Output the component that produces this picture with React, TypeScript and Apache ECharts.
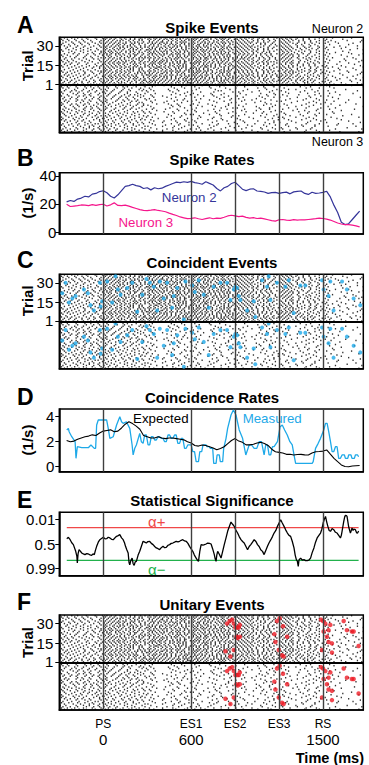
import React, { useEffect, useRef } from "react";
import * as echarts from "echarts";

// ---------------- data ----------------
const EVENT_T = [0, 600, 900, 1200, 1500];
const EVENT_NAMES = ["PS", "ES1", "ES2", "ES3", "RS"];
const EVENT_MS = ["0", "600", "", "", "1500"];

const X_MIN = -300;
const X_MAX = 1775;

const N_TRIALS = 36;
const TRIAL_TICKS = [1, 15, 30];

// spike trains: blocks of 300 ms starting at -300 ms, each char = offset in 10 ms bins (0-9, a-t)
const NEURON2_SPIKES = [
  "149cglpr 0368bfikoqs 1479cfhjmoqt 0358adgikms 258bdgjmps 147adhkos 27fq",
  "26afjnt 147aceimpr 0257adgjlorst 1469bejlnqt 0369cfilo 259chjmr 04cn",
  "37bfkos 0259cgjmqt 1358behkmpr 247adfikmps 147bdhknqs 036bgjnt 15j",
  "158dinr 036aehlosr 2469cfiloqs 0358bfhkmor 269cfjlpt 148behlo 39ip",
  "04agls 258bdhkmps 147adgjloqt 1369cfhknps 0358bgjmq 257cfjmr 1bm",
  "27chmq 1469cfilnr 0358bdgjmpr 2479cehknqs 147adgkot 0369dgkp 28gr",
  "159ejot 0358behkmr 1469bdgjnqs 0257aehjmps 258cfilos 147bejnr 06ks",
  "36bgkp 147adgjmqt 0258cfhkmps 1369beiloq 0479bfilps 258chlq 3dn",
  "048dhnr 258behlnqs 1369adgknp 0247adgjloqt 369cfjnr 1479djns 1bp",
  "25ahms 0369cfinps 147bdgjlos 1358aehkmpt 0258bfjmp 369bfkot 4hq",
  "17cglqs 148behkor 0259cfhkmps 1469bejmoq 258bejmqt 0479dhlp 27gs",
  "39ejo 0259cgikoq 147adgjmqs 0358bdhkmpr 147aeilo 258cfkos 0bm",
  "06bgmr 147beikoq 2569cfjlnqt 1358bfimps 0369cgjnq 147chlp 3ak",
  "28dinr 0369cfhkmps 1478beiloq 0269adgkmpt 258bfjns 0369elq 16fr",
  "15afkps 258beilns 0369cfhkmoq 1479bdgjnqs 147adhlp 269cgkot 2cp",
  "37ciot 147adgkmps 1358bfiloq 0258adgjmpr 0369bfjmq 148cgko 09l",
  "048djq 0369beilor 2479cfhkmpt 1358beiknq 258cgjms 0479djnr 3hs",
  "26bhms 147adfjlps 0358adhkmpq 2469cfilos 147beiloq 258dhlq 1bo",
  "159fkr 258cfhkoq 1469bdgjmps 0358aehkmpt 269cfjms 0369ejo 4fq",
  "38dinq 0369bejmor 147adgikos 1469bfhknps 0358bgknr 147dilr 2em",
  "04agms 147behkoqs 0258cfjlnq 1369adgjmps 1469cgjnr 258cgkp 06kt",
  "27bhlq 0359cgilps 147aehkmpr 0258bdgjmoq 147aeimp 0369dimr 3gs",
  "15ciot 248beilmq 0369bfhkmps 1479cfiloq 258behlo 1479djo 1co",
  "39djnr 0258adhknr 1358bdgjlos 0269cfhkmpt 0369chkos 258cgkr 4jr",
  "06agms 1469bfiloq 0247adhkmps 1358beiknps 258cfiln 036aflp 28h",
  "28ejos 0358cfikos 1469bdgjmpr 2479cfhkmq 147bejnq 258dhlr 0ds",
  "16bglq 147adhkmpt 0258cfiloq 1368adgjlps 0369cfjms 147bfkp 3ir",
  "49ejp 0269beiknq 1358adgjnqs 0247bdgkmor 258bfjmp 0369eimq 1cn",
  "05bgls 147bdgjmps 0369cfhknq 1469bfiloqt 147adhmq 258chkr 27ft",
  "37chnr 0258adgilps 147beikmqs 0358adhkmp 0369bfjns 147cglq 0bn",
  "16afkq 0369beikos 2479cfhjmps 1458bdgjmqs 258chkor 036bfko 4hs",
  "29ejos 147adfjloq 0358bdgknps 0269beilnq 147aehkp 259chmr 1ak",
  "048dhmr 258bfilnr 1369adgjmoq 1479cfhkmps 0369bfjmq 147dhlp 38p",
  "26bgls 0369bdhkoq 147aehknps 0258bfilor 258cfjnr 0369dglr 15gq",
  "15afjp 147cfiloq 0258bdgjmqs 1369adhkmpt 147bfimq 258bgko 2ds",
  "38ciot 0258beilps 1469cfhkmor 0247bdgjlnq 0369cgjms 147cgkr 06js",
];

const NEURON3_SPIKES = [
  "38diot 16bhmr 4ajp 29k 5fo 3hr bo",
  "15agms 38djo 1ahr 6fp 0bm 7ip 4",
  "27cinr 049gls 6dlt 3bk 4ir 2cl 8q",
  "04bgkq 27ejq 2hn 5dnt 7hp 1bm g",
  "39eknr 15bgms 0aip 4fq 2bl 6go 3m",
  "16chmt 38eko 5cls 1ch 8jr 4fo 9",
  "28djoq 05afkr 3gm 7ip 1dn 5ir ak",
  "05bhls 27dinq 1aks 3et 6kq 0bj 2p",
  "37cfkr 16chm 4bjq 2ho 5fq 8ls h",
  "14agnr 38ejps 2gp 0bl 3mt 6fp 1c",
  "29dipt 05bglq 7ir 4ek 1cp 3in 9",
  "16bfmq 27ciot 3dm 6fr 9kt 2bk 5o",
  "48ejos 14aflr 0gn 5ks 2hq 7gp d",
  "03agkp 39djo 5eqt 1cj 6ls 4eo 2j",
  "27chmr 16bgls 2ip 8hp 0ci 3jr 7",
  "15bfkq 48eknr 1bh 3gs 7jo 1dk 6s",
  "38dhns 05agq 6lr 2bj 4er 9hp c",
  "26bglr 17dimt 3ck 0fo 6hn 2cq 4l",
  "04ahmq 28ejo 4fp 3ks 1gn 6is 8",
  "39dilp 15bfkq 2hm 7gn 5ep 0bk 3r",
  "17cgns 38dimr 0glt 4ep 2jr 5fn b",
  "28bhkq 04agnr 6ek 1bp 7lo 3is 5m",
  "15ejpt 26cioq 3bn 5hr 0dk 8kp 1f",
  "36bgls 18ejm 2dir 0fm 4hs 1cn 7",
  "04cfkr 29dhnt 5ko 3cq 6bo 4gr 2h",
  "27bhmq 15agls 1gp 6jr 2ek 7ip a",
  "38cinr 06bfkp 4dj 2hm 5iq 0cl 6p",
  "16dgls 27chnr 3aq 8fp 1gm 5ks 3",
  "05bhkq 38eilp 2gmt 4ek 7lr 2do b",
  "29cglr 14agns 5jp 1dm 3hq 6jr 4k",
  "17djot 05bgm 0hr 6fs 2bn 4eo 8",
  "38bfkp 26ciqt 4fl 0ik 5gp 1hq 3n",
  "04agms 17dhor 2ek 3gq 8ls 6bm f",
  "26cinr 39ejp 1ip 5dn 0fk 3ir 7",
  "15bhlq 28dgms 3gn 2cj 6jq 0el 4r",
  "37ejos 04afkr 5bq 7hm 1ep 5hs 2j",
];

// coincident events [time ms, trial]
const COINCIDENT = [
  [-280, 22], [-257, 30], [-234, 15], [-211, 18], [-189, 20], [-132, 25], [-105, 22], [-87, 13],
  [-64, 9], [-23, 30], [-18, 12], [-7, 16], [27, 31], [61, 15], [84, 35], [100, 25], [118, 21],
  [164, 26], [198, 30], [232, 8], [266, 21], [295, 33], [318, 30], [345, 27], [368, 9], [386, 31],
  [413, 18], [436, 30], [470, 11], [481, 20], [505, 26], [550, 2], [561, 31], [607, 28], [625, 23],
  [652, 32], [686, 21], [720, 11], [754, 27], [800, 30], [845, 30], [868, 17], [891, 25], [902, 27],
  [914, 26], [925, 20], [936, 17], [982, 9], [1027, 16], [1038, 4], [1084, 32], [1118, 27],
  [1129, 35], [1141, 17], [1186, 30], [1243, 27], [1266, 32], [1300, 7], [1345, 28], [1379, 28],
  [1493, 32], [1504, 25], [1538, 20], [1550, 31], [1572, 9], [1630, 31], [1663, 25], [1709, 18],
  [1754, 13],
];

// unitary events [time ms, trial]
const UNITARY = [
  [845, 30], [863, 32], [880, 33], [891, 30], [902, 27], [914, 27], [925, 27], [932, 29], [909, 20],
  [918, 19], [932, 20], [834, 9], [868, 5], [891, 10],
  [1186, 32], [1204, 34], [1227, 28], [1168, 22], [1255, 20], [1175, 16], [1198, 10], [1220, 6], [1231, 5],
  [1486, 33], [1500, 32], [1516, 30], [1550, 29], [1538, 25], [1504, 24], [1527, 20], [1538, 16],
  [1561, 15], [1493, 10], [1561, 8],
  [1641, 32], [1663, 25], [1697, 24], [1709, 24], [1743, 13],
];

const RATE_T = [
  -250, -225, -200, -175, -150, -125, -100, -75, -50, -25,
  0, 25, 50, 75, 100, 125, 150, 175, 200, 225,
  250, 275, 300, 325, 350, 375, 400, 425, 450, 475,
  500, 525, 550, 575, 600, 625, 650, 675, 700, 725,
  750, 775, 800, 825, 850, 875, 900, 925, 950, 975,
  1000, 1025, 1050, 1075, 1100, 1125, 1150, 1175, 1200, 1225,
  1250, 1275, 1300, 1325, 1350, 1375, 1400, 1425, 1450, 1475,
  1500, 1525, 1550, 1575, 1600, 1625, 1650, 1675, 1700, 1725,
  1750,
];
const RATE_N2 = [
  21.5, 22.5, 21.8, 23.5, 24.2, 25.5, 25, 27, 27.5, 28.8,
  29.4, 28, 25.5, 24.3, 26.5, 29.5, 32.5, 33, 34, 33,
  32.5, 31, 31.5, 30, 31.5, 30.8, 31.2, 32.5, 33.5, 34.5,
  35.5, 35.2, 35.8, 35.3, 36, 35.2, 34.7, 34, 35.8, 34.6,
  33.5, 31, 29.3, 31.5, 32.5, 34.5, 35.4, 33, 30.5, 29.5,
  30.5, 30.8, 29.2, 29, 28.5, 27.5, 28, 28.2, 27.5, 28,
  28.4, 27.2, 28.6, 29, 29.2, 27.5, 26.8, 28.3, 27.5, 27.8,
  28.2, 29, 25, 19, 14, 7, 5.4, 6, 9, 12,
  15,
];
const RATE_N3 = [
  19.8, 18.2, 18.5, 18.8, 19.3, 19.2, 18.8, 19.5, 19, 19.6,
  19.8, 18.6, 19.4, 20.8, 19, 18.8, 19.2, 18.5, 17.6, 16.8,
  16, 15.5, 15.3, 15.6, 16, 15.4, 15, 14.5, 13.5, 12.6,
  11.8, 10.8, 10.2, 9.6, 9.8, 10.2, 9.5, 9, 9.6, 10.2,
  9.5, 10, 9.8, 10.6, 11.5, 12, 11.6, 11, 11.4, 10.5,
  10, 10.3, 9.7, 10, 9.4, 8.8, 8.2, 7.8, 8.8, 9,
  8.6, 8.4, 8.9, 8.5, 8.8, 8.7, 9, 9.3, 9.6, 10,
  9.7, 9.2, 8.6, 7.6, 6.5, 5.8, 5.3, 5.4, 5, 4.5,
  3.8,
];
const RATE_TICKS = [0, 20, 40];

const EXPECTED = [
  2.1, 2.0, 2.05, 2.2, 2.3, 2.4, 2.45, 2.55, 2.5, 2.7,
  2.85, 2.9, 2.95, 2.8, 2.85, 3.1, 3.4, 3.6, 3.45, 3.25,
  3.0, 2.5, 2.4, 2.3, 2.3, 2.4, 2.3, 2.25, 2.3, 2.3,
  2.25, 2.2, 2.15, 2.0, 1.9, 1.7, 1.65, 1.74, 1.7, 1.6,
  1.5, 1.35, 1.45, 1.6, 1.85, 2.1, 2.25, 2.05, 1.95, 1.75,
  1.75, 1.8, 1.9, 1.95, 1.85, 1.7, 1.4, 1.2, 1.15, 1.1,
  0.99, 1.0, 0.94, 0.98, 0.99, 0.95, 0.94, 1.1, 1.2, 1.22,
  1.25, 1.34, 1.0, 0.67, 0.4, 0.14, 0.02, 0.0, 0.06, 0.08,
  0.1,
];
const MEASURED = [
  [-249, 2.94], [-238, 3.07], [-233, 2.8], [-215, 2.4], [-192, 2.0], [-186, 0.67], [-177, 1.6],
  [-147, 1.52], [-102, 1.52], [-84, 1.74], [-61, 1.47], [-52, 1.47], [-45, 3.34], [-34, 3.74],
  [23, 3.74], [34, 3.07], [45, 2.27], [68, 2.4], [91, 3.34], [113, 4.0], [125, 3.6], [136, 3.47],
  [158, 3.6], [181, 3.07], [197, 1.74], [204, 0.94], [215, 1.47], [226, 1.74], [249, 2.67],
  [260, 2.0], [272, 1.87], [283, 2.54], [294, 2.54], [306, 1.74], [317, 1.74], [328, 2.4],
  [340, 2.4], [351, 2.14], [362, 2.14], [374, 2.4], [385, 2.4], [396, 2.27], [408, 2.27],
  [419, 2.0], [430, 2.0], [442, 2.54], [453, 2.54], [464, 2.27], [475, 2.27], [487, 2.54],
  [498, 2.54], [509, 1.87], [521, 1.87], [532, 2.27], [543, 2.27], [555, 1.47], [566, 1.47],
  [577, 1.74], [600, 1.74], [611, 1.2], [623, 1.2], [634, 0.4], [650, 0.4], [659, 1.2], [672, 1.2],
  [681, 1.74], [702, 1.74], [708, 1.6], [724, 1.6], [731, 1.47], [747, 1.47], [754, 0.27],
  [770, 0.27], [777, 0.94], [792, 0.94], [799, 0.4], [815, 0.4], [822, 1.47], [838, 2.27],
  [849, 3.07], [872, 4.14], [888, 4.54], [906, 4.14], [928, 2.94], [951, 2.27], [973, 0.94],
  [996, 1.74], [1012, 1.74], [1030, 1.47], [1048, 1.47], [1064, 2.0], [1080, 2.0], [1098, 0.94],
  [1109, 1.74], [1121, 1.74], [1132, 0.94], [1143, 0.94], [1155, 1.6], [1166, 1.6], [1189, 2.0],
  [1207, 3.2], [1222, 3.34], [1238, 2.94], [1256, 2.54], [1274, 2.0], [1290, 1.74], [1302, 0.94],
  [1313, 0.27], [1426, 0.27], [1433, 0.4], [1449, 1.47], [1467, 1.87], [1483, 2.27], [1505, 2.94],
  [1517, 3.47], [1528, 3.47], [1539, 2.8], [1551, 2.0], [1562, 1.2], [1573, 1.2], [1585, 1.6],
  [1596, 1.6], [1607, 0.67], [1619, 0.67], [1630, 0.94], [1646, 0.94], [1653, 0.67], [1669, 0.67],
  [1675, 0.94], [1691, 0.94], [1698, 0.67], [1714, 0.67], [1721, 0.94], [1736, 0.94], [1743, 0.8],
];
const COINC_TICKS = [0, 2, 4];

// significance in log-odds units: 2 -> p 0.01, 0 -> 0.5, -2 -> 0.99
const SIG = [
  [-249, 0.43], [-238, 0.54], [-226, 0.35], [-215, 0.1], [-204, -0.05], [-188, -0.59], [-180, -1.0],
  [-177, -1.54], [-172, -0.8], [-165, -0.46], [-155, -0.6], [-147, -0.73], [-136, -0.8], [-125, -0.86],
  [-113, -0.78], [-102, -0.81], [-90, -0.88], [-79, -0.92], [-70, -0.8], [-61, -0.86], [-53, -0.5],
  [-45, -0.19], [-34, 0.15], [-23, 0.35], [-12, 0.45], [0, 0.54], [12, 0.42], [23, 0.43], [34, 0.55],
  [45, 0.49], [57, 0.38], [68, 0.35], [80, 0.5], [91, 0.62], [102, 0.68], [113, 0.76], [125, 0.5],
  [136, 0.35], [145, 0.1], [152, -0.19], [160, -0.45], [170, -0.73], [176, -1.5], [181, -1.68],
  [188, -1.35], [197, -1.14], [204, -1.6], [211, -1.73], [218, -1.45], [226, -1.41], [238, -0.9],
  [249, -0.59], [260, -0.2], [272, 0.22], [283, 0.15], [294, 0.08], [305, 0.2], [317, 0.22],
  [328, 0.05], [340, -0.05], [351, -0.2], [362, -0.32], [374, -0.38], [385, -0.46], [396, -0.3],
  [408, -0.19], [419, -0.3], [430, -0.27], [442, -0.1], [453, -0.05], [464, 0.05], [475, 0.08],
  [487, 0.15], [498, 0.22], [510, 0.18], [521, 0.22], [532, 0.3], [543, 0.35], [555, 0.25],
  [566, 0.22], [578, 0.05], [589, -0.19], [600, -0.4], [611, -0.59], [622, -0.9], [634, -1.14],
  [642, -1.3], [650, -1.41], [659, -0.6], [668, -0.05], [680, -0.1], [691, -0.05], [702, 0.0],
  [713, 0.08], [725, 0.05], [736, 0.0], [747, -0.4], [758, -0.86], [764, -1.2], [770, -1.41],
  [775, -0.9], [781, -0.59], [793, -0.85], [804, -1.14], [815, -0.6], [826, -0.05], [838, 0.5],
  [849, 1.03], [860, 1.4], [872, 1.78], [883, 1.6], [894, 1.43], [906, 1.1], [917, 0.89], [928, 0.6],
  [940, 0.35], [951, 0.2], [962, 0.08], [974, -0.2], [985, -0.46], [996, -0.2], [1007, -0.05],
  [1019, 0.15], [1030, 0.35], [1042, 0.2], [1053, -0.05], [1064, -0.2], [1075, -0.46], [1087, -0.6],
  [1098, -0.86], [1110, -0.5], [1121, -0.19], [1132, 0.1], [1144, 0.35], [1155, 0.6], [1166, 0.89],
  [1178, 1.1], [1189, 1.43], [1200, 1.7], [1211, 1.97], [1222, 1.7], [1234, 1.43], [1245, 1.15],
  [1257, 0.89], [1268, 0.7], [1279, 0.62], [1290, 0.22], [1302, -0.32], [1310, -0.9], [1318, -1.27],
  [1325, -1.4], [1331, -1.81], [1336, -1.3], [1347, -1.14], [1358, -1.3], [1370, -1.27], [1381, -1.35],
  [1392, -1.35], [1404, -1.3], [1415, -1.14], [1426, -0.7], [1438, -0.32], [1449, 0.15], [1460, 0.49],
  [1472, 0.7], [1483, 0.89], [1492, 1.2], [1501, 1.7], [1509, 2.0], [1517, 2.24], [1525, 1.8],
  [1533, 1.43], [1542, 1.1], [1551, 1.03], [1562, 1.25], [1573, 1.16], [1585, 0.95], [1596, 0.89],
  [1607, 0.7], [1619, 0.49], [1625, 0.7], [1630, 1.03], [1641, 1.8], [1648, 2.2], [1653, 2.32],
  [1660, 2.3], [1664, 2.24], [1675, 1.4], [1687, 0.89], [1693, 1.1], [1698, 1.3], [1705, 1.1],
  [1710, 1.2], [1721, 1.16], [1730, 0.9], [1736, 0.89], [1743, 1.05],
];
const SIG_TICK_VALUES = [2, 0, -2];
const SIG_TICK_LABELS = ["0.01", "0.5", "0.99"];
const ALPHA_PLUS = 1.33;
const ALPHA_MINUS = -1.33;

// ---------------- styles / layout ----------------
const FONT = '"Liberation Sans", Arial, Helvetica, sans-serif';
const C_N2 = "#35359a";
const C_N3 = "#f5168c";
const C_CYAN = "#1ea9e8";
const C_RED = "#ee1c25";
const C_ALPHA_P = "#f04848";
const C_ALPHA_M = "#22b14c";
const C_EVENT = "#3f3f3f";

const PLOT_LEFT = 59.3;
const PLOT_WIDTH = 304;
const PANELS = [
  { top: 37.3, height: 95 },
  { top: 172.7, height: 61.3 },
  { top: 274.3, height: 94.5 },
  { top: 409, height: 62.7 },
  { top: 512.3, height: 63.4 },
  { top: 615, height: 95 },
];

const OFFSET_DIGITS = "0123456789abcdefghijklmnopqrst";
const BLOCK_MS = 300;
const BIN_MS = 10;

function decodeTrain(s: string): number[] {
  const out: number[] = [];
  s.split(" ").forEach((blk, b) => {
    for (const ch of blk) {
      const k = OFFSET_DIGITS.indexOf(ch);
      if (k < 0) continue;
      const t = X_MIN + b * BLOCK_MS + k * BIN_MS + BIN_MS / 2;
      if (t <= X_MAX) out.push(t);
    }
  });
  return out;
}

function buildRaster(): number[][] {
  const pts: number[][] = [];
  NEURON3_SPIKES.forEach((s, i) => decodeTrain(s).forEach((t) => pts.push([t, i + 0.5])));
  NEURON2_SPIKES.forEach((s, i) => decodeTrain(s).forEach((t) => pts.push([t, N_TRIALS + i + 0.5])));
  return pts;
}

function mirrorEvents(list: number[][]): number[][] {
  const pts: number[][] = [];
  list.forEach(([t, k]) => {
    pts.push([t, k - 0.5]);
    pts.push([t, N_TRIALS + k - 0.5]);
  });
  return pts;
}

function txt(text: string, x: number, y: number, o: any = {}) {
  return {
    type: "text",
    x,
    y,
    rotation: o.rot || 0,
    silent: true,
    style: {
      text,
      fill: o.color || "#000",
      font: `${o.bold ? "bold " : ""}${o.size || 13}px ${FONT}`,
      textAlign: o.align || "center",
      textVerticalAlign: "middle",
    },
  };
}

function eventLines(mid: boolean) {
  const data: any[] = EVENT_T.map((t) => ({
    xAxis: t,
    lineStyle: { color: C_EVENT, width: 1.4, type: "solid" },
  }));
  if (mid) data.push({ yAxis: N_TRIALS, lineStyle: { color: "#000", width: 2, type: "solid" } });
  return {
    silent: true,
    symbol: ["none", "none"],
    label: { show: false },
    emphasis: { disabled: true },
    data,
  };
}

function xAx(gi: number, showLabels: boolean) {
  return {
    type: "value",
    gridIndex: gi,
    min: X_MIN,
    max: X_MAX,
    axisLine: { show: true, onZero: false, lineStyle: { color: "#000", width: 1.5 } },
    axisTick: { show: false },
    splitLine: { show: false },
    axisLabel: showLabels
      ? {
          show: true,
          customValues: EVENT_T,
          margin: 6,
          color: "#000",
          fontFamily: FONT,
          formatter: (v: number) => {
            const i = EVENT_T.indexOf(v);
            const ms = EVENT_MS[i] || " ";
            return `{e|${EVENT_NAMES[i]}}\n{n|${ms}}`;
          },
          rich: {
            e: { fontSize: 12, lineHeight: 15, fontFamily: FONT, color: "#000" },
            n: { fontSize: 15, lineHeight: 16, fontFamily: FONT, color: "#000" },
          },
        }
      : { show: false },
  };
}

function yAx(gi: number, min: number, max: number, ticks: number[], fmt: (v: number) => string, margin: number) {
  return {
    type: "value",
    gridIndex: gi,
    min,
    max,
    axisLine: { show: true, onZero: false, lineStyle: { color: "#000", width: 1.5 } },
    axisTick: { show: true, customValues: ticks, length: 4, lineStyle: { color: "#000", width: 1 } },
    axisLabel: { show: true, customValues: ticks, formatter: fmt, margin, color: "#000", fontSize: 15, fontFamily: FONT },
    splitLine: { show: false },
  };
}

function buildOption() {
  const raster = buildRaster();
  const trialTickVals = TRIAL_TICKS.map((k) => N_TRIALS + k - 0.5);
  const trialFmt = (v: number) => String(Math.round(v - N_TRIALS + 0.5));
  const plainFmt = (v: number) => String(v);
  const sigFmt = (v: number) => SIG_TICK_LABELS[SIG_TICK_VALUES.indexOf(v)] ?? "";
  const sigStart = SIG[0][0];
  const sigEnd = SIG[SIG.length - 1][0];

  const rasterSeries = (gi: number) => ({
    type: "scatter",
    xAxisIndex: gi,
    yAxisIndex: gi,
    data: raster,
    symbol: "rect",
    symbolSize: [1.3, 1.5],
    itemStyle: { color: "#000" },
    silent: true,
    progressive: 0,
    large: false,
    markLine: eventLines(true),
    z: 2,
  });

  return {
    animation: false,
    backgroundColor: "#fff",
    grid: PANELS.map((p) => ({
      left: PLOT_LEFT,
      width: PLOT_WIDTH,
      top: p.top,
      height: p.height,
      show: true,
      borderColor: "#000",
      borderWidth: 1.5,
      backgroundColor: "transparent",
    })),
    xAxis: PANELS.map((_, i) => xAx(i, i === 5)),
    yAxis: [
      yAx(0, 0, 2 * N_TRIALS, trialTickVals, trialFmt, 6),
      yAx(1, -1.3, 42.2, RATE_TICKS, plainFmt, 3),
      yAx(2, 0, 2 * N_TRIALS, trialTickVals, trialFmt, 6),
      yAx(3, -0.4, 4.62, COINC_TICKS, plainFmt, 5),
      yAx(4, -2.57, 2.57, SIG_TICK_VALUES, sigFmt, 4),
      yAx(5, 0, 2 * N_TRIALS, trialTickVals, trialFmt, 6),
    ],
    series: [
      rasterSeries(0),
      {
        type: "line",
        xAxisIndex: 1,
        yAxisIndex: 1,
        data: RATE_T.map((t, i) => [t, RATE_N2[i]]),
        symbol: "none",
        lineStyle: { color: C_N2, width: 1.2 },
        silent: true,
        markLine: eventLines(false),
      },
      {
        type: "line",
        xAxisIndex: 1,
        yAxisIndex: 1,
        data: RATE_T.map((t, i) => [t, RATE_N3[i]]),
        symbol: "none",
        lineStyle: { color: C_N3, width: 1.2 },
        silent: true,
      },
      rasterSeries(2),
      {
        type: "scatter",
        xAxisIndex: 2,
        yAxisIndex: 2,
        data: mirrorEvents(COINCIDENT),
        symbol: "circle",
        symbolSize: 4,
        itemStyle: { color: C_CYAN },
        silent: true,
        z: 3,
      },
      {
        type: "line",
        xAxisIndex: 3,
        yAxisIndex: 3,
        data: MEASURED,
        symbol: "none",
        lineStyle: { color: C_CYAN, width: 1.3 },
        silent: true,
        markLine: eventLines(false),
      },
      {
        type: "line",
        xAxisIndex: 3,
        yAxisIndex: 3,
        data: RATE_T.map((t, i) => [t, EXPECTED[i]]),
        symbol: "none",
        lineStyle: { color: "#000", width: 1.1 },
        silent: true,
      },
      {
        type: "line",
        xAxisIndex: 4,
        yAxisIndex: 4,
        data: [[sigStart, ALPHA_PLUS], [sigEnd, ALPHA_PLUS]],
        symbol: "none",
        lineStyle: { color: C_ALPHA_P, width: 1.2 },
        silent: true,
        markLine: eventLines(false),
      },
      {
        type: "line",
        xAxisIndex: 4,
        yAxisIndex: 4,
        data: [[sigStart, ALPHA_MINUS], [sigEnd, ALPHA_MINUS]],
        symbol: "none",
        lineStyle: { color: C_ALPHA_M, width: 1.2 },
        silent: true,
      },
      {
        type: "line",
        xAxisIndex: 4,
        yAxisIndex: 4,
        data: SIG,
        symbol: "none",
        lineStyle: { color: "#000", width: 1.3 },
        silent: true,
      },
      rasterSeries(5),
      {
        type: "scatter",
        xAxisIndex: 5,
        yAxisIndex: 5,
        data: mirrorEvents(UNITARY),
        symbol: "circle",
        symbolSize: 4.5,
        itemStyle: { color: C_RED },
        silent: true,
        z: 3,
      },
    ],
    graphic: {
      elements: [
        txt("A", 17, 25, { bold: true, size: 23, align: "left" }),
        txt("B", 17, 158.3, { bold: true, size: 23, align: "left" }),
        txt("C", 17, 260, { bold: true, size: 23, align: "left" }),
        txt("D", 17, 396.7, { bold: true, size: 23, align: "left" }),
        txt("E", 17, 500, { bold: true, size: 23, align: "left" }),
        txt("F", 17, 601.7, { bold: true, size: 23, align: "left" }),
        txt("Spike Events", 212, 27.2, { bold: true, size: 15 }),
        txt("Spike Rates", 212, 159.5, { bold: true, size: 15 }),
        txt("Coincident Events", 212, 262, { bold: true, size: 15 }),
        txt("Coincidence Rates", 212, 397, { bold: true, size: 15 }),
        txt("Statistical Significance", 212, 500.3, { bold: true, size: 15 }),
        txt("Unitary Events", 212, 604, { bold: true, size: 15 }),
        txt("Trial", 27.5, 65.8, { bold: true, size: 15, rot: Math.PI / 2 }),
        txt("Trial", 27.5, 300.8, { bold: true, size: 15, rot: Math.PI / 2 }),
        txt("Trial", 27.5, 642.5, { bold: true, size: 15, rot: Math.PI / 2 }),
        txt("(1/s)", 27.5, 203, { bold: true, size: 15, rot: Math.PI / 2 }),
        txt("(1/s)", 27.5, 440, { bold: true, size: 15, rot: Math.PI / 2 }),
        txt("Neuron 2", 363.3, 29, { size: 12.5, align: "right" }),
        txt("Neuron 3", 363.3, 141.5, { size: 12.5, align: "right" }),
        txt("Neuron 2", 189.2, 197.5, { size: 13.3, color: C_N2 }),
        txt("Neuron 3", 145.8, 222.5, { size: 13.3, color: C_N3 }),
        txt("Expected", 160.8, 418, { size: 13.3 }),
        txt("Measured", 272.2, 418, { size: 13.3, color: C_CYAN }),
        txt("\u03b1+", 156.7, 521, { size: 15, color: C_ALPHA_P }),
        txt("\u03b1\u2212", 156.7, 569, { size: 15, color: C_ALPHA_M }),
        txt("Time (ms)", 364, 757.5, { bold: true, size: 14.5, align: "right" }),
      ],
    },
  };
}

export default function App() {
  const ref = useRef<HTMLDivElement>(null);
  useEffect(() => {
    if (!ref.current) return;
    const chart = echarts.init(ref.current, null, { renderer: "svg", width: 369, height: 765 });
    chart.setOption(buildOption() as any);
    return () => chart.dispose();
  }, []);
  return (
    <div
      ref={ref}
      style={{ position: "absolute", left: 0, top: 0, width: 369, height: 765, background: "#fff" }}
    />
  );
}
